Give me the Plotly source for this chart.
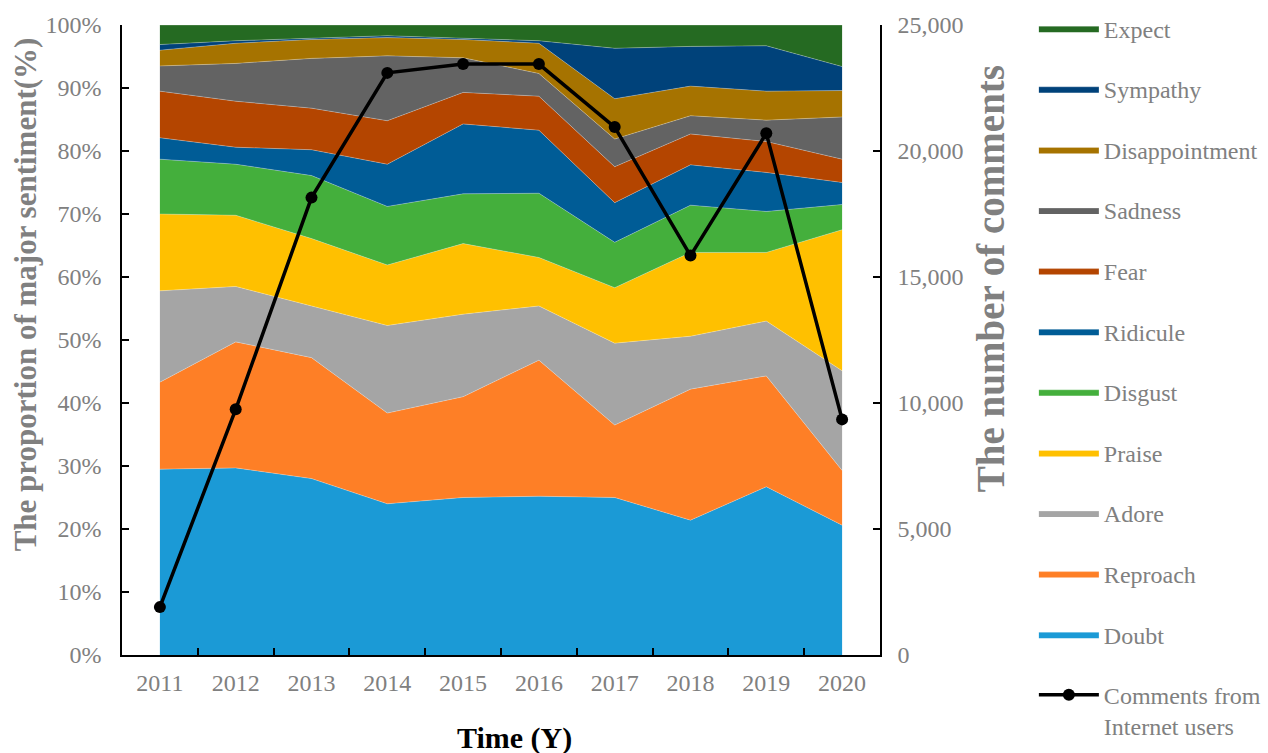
import plotly.graph_objects as go

# Years on the category axis
years = ["2011", "2012", "2013", "2014", "2015", "2016", "2017", "2018", "2019", "2020"]

# Share of each sentiment per year (%), bottom of the stack first
doubt          = [29.5, 29.7, 28.0, 24.0, 25.0, 25.2, 25.0, 21.4, 26.7, 20.6]
reproach       = [13.8, 20.0, 19.2, 14.4, 16.0, 21.6, 11.5, 20.8, 17.6,  8.7]
adore          = [14.5,  8.8,  8.2, 13.9, 13.1,  8.6, 13.0,  8.4,  8.7, 15.8]
praise         = [12.2, 11.3, 10.7,  9.6, 11.2,  7.7,  8.8, 13.3, 10.9, 22.4]
disgust        = [ 8.7,  8.1, 10.0,  9.3,  7.9, 10.2,  7.2,  7.5,  6.5,  4.0]
ridicule       = [ 3.4,  2.7,  4.1,  6.7, 11.1, 10.0,  6.3,  6.4,  6.2,  3.5]
fear           = [ 7.4,  7.3,  6.6,  6.9,  5.0,  5.4,  5.7,  4.9,  4.9,  3.7]
sadness        = [ 4.0,  6.0,  7.9, 10.3,  5.5,  3.6,  4.4,  2.9,  3.4,  6.7]
disappointment = [ 2.5,  3.2,  3.0,  2.9,  2.9,  4.8,  6.4,  4.7,  4.6,  4.2]
sympathy       = [ 0.9,  0.4,  0.2,  0.3,  0.2,  0.4,  8.0,  6.3,  7.2,  3.8]
expect         = [ 3.1,  2.5,  2.1,  1.7,  2.1,  2.5,  3.7,  3.4,  3.3,  6.6]

# Number of comments per year
comments = [1900, 9750, 18150, 23100, 23450, 23450, 20950, 15850, 20700, 9350]

# Axis tick values
pct_ticks = list(range(0, 101, 10))
pct_labels = [f"{v}%" for v in pct_ticks]
count_ticks = list(range(0, 25001, 5000))

series = [
    ("Doubt", doubt, "#1B9AD6"),
    ("Reproach", reproach, "#FE7F26"),
    ("Adore", adore, "#A5A5A5"),
    ("Praise", praise, "#FFC000"),
    ("Disgust", disgust, "#44AF3C"),
    ("Ridicule", ridicule, "#005C96"),
    ("Fear", fear, "#B44500"),
    ("Sadness", sadness, "#636363"),
    ("Disappointment", disappointment, "#A67300"),
    ("Sympathy", sympathy, "#00427A"),
    ("Expect", expect, "#256A22"),
]

SERIF = "Liberation Serif, Times New Roman, serif"
GREY = "#808080"

fig = go.Figure()

n = len(series)
for i, (name, vals, color) in enumerate(series):
    fig.add_trace(go.Scatter(
        x=years, y=vals, name=name, mode="lines",
        stackgroup="sentiment", legendgroup=name, legendrank=n - i,
        line=dict(width=0.6, color="rgba(255,255,255,0.45)"),
        fillcolor=color,
    ))

fig.add_trace(go.Scatter(
    x=years, y=comments, name="Comments from<br>Internet users",
    mode="lines+markers", yaxis="y2", legendgroup="comments", legendrank=n + 1,
    line=dict(color="black", width=3.5),
    marker=dict(color="black", size=12),
))

axis_common = dict(
    showline=True, linecolor="black", linewidth=1.5,
    ticks="inside", ticklen=7, tickcolor="black", tickwidth=1.5,
    showgrid=False, zeroline=False,
    tickfont=dict(family=SERIF, size=24, color=GREY),
)

fig.update_layout(
    width=1268, height=753,
    margin=dict(l=122, r=388, t=25, b=98, autoexpand=False),
    paper_bgcolor="white", plot_bgcolor="white",
    font=dict(family=SERIF, color=GREY),
    showlegend=True,
    legend=dict(
        x=1.203, xanchor="left", y=1.030, yanchor="top",
        traceorder="grouped", tracegroupgap=26.4, maxheight=1.0, valign="top",
        font=dict(family=SERIF, size=24, color=GREY),
        itemwidth=60, bgcolor="rgba(0,0,0,0)",
    ),
    xaxis=dict(
        type="category", range=[-0.5, 9.5], tickson="boundaries",
        ticklabelstandoff=5, **axis_common,
    ),
    yaxis=dict(
        range=[0, 100], tickvals=pct_ticks, ticktext=pct_labels,
        ticklabelstandoff=14, **axis_common,
    ),
    yaxis2=dict(
        overlaying="y", side="right", anchor="x",
        range=[0, 25000], tickvals=count_ticks, tickformat=",d",
        ticklabelstandoff=11, **axis_common,
    ),
    annotations=[
        dict(text="<b>The proportion of major sentiment(%)</b>", xref="paper", yref="paper",
             x=-0.127, y=0.572, textangle=-90, showarrow=False, xanchor="center", yanchor="middle",
             font=dict(family=SERIF, size=31, color=GREY)),
        dict(text="<b>The number of comments</b>", xref="paper", yref="paper",
             x=1.145, y=0.598, textangle=-90, showarrow=False, xanchor="center", yanchor="middle",
             font=dict(family=SERIF, size=39, color=GREY)),
        dict(text="<b>Time (Y)</b>", xref="paper", yref="paper",
             x=0.518, y=-0.132, showarrow=False, xanchor="center", yanchor="middle",
             font=dict(family=SERIF, size=30, color="black")),
    ],
)

fig.write_html("out.html")
